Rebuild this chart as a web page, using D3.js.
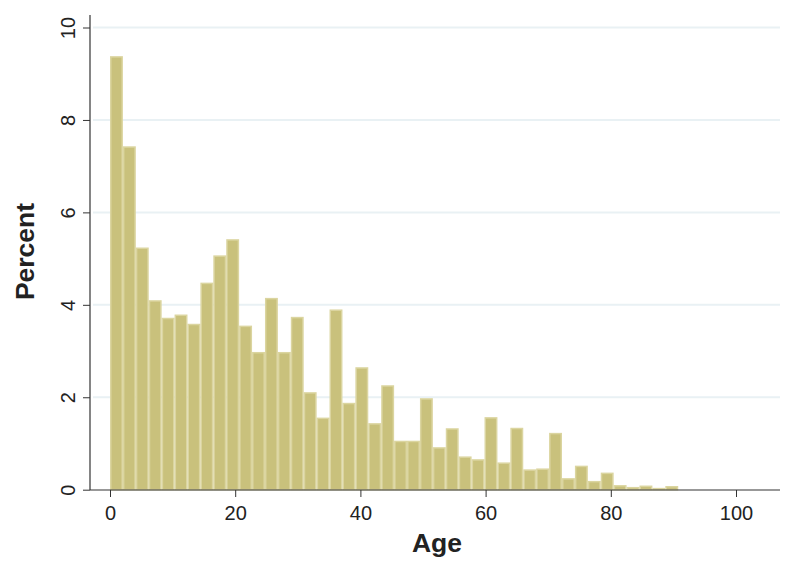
<!DOCTYPE html>
<html>
<head>
<meta charset="utf-8">
<script src="https://cdn.jsdelivr.net/npm/d3@7"></script>
<style>
  body { margin: 0; background: #fff; }
  svg { display: block; font-family: "Liberation Sans", Arial, sans-serif; }
</style>
</head>
<body>
<script>
// histogram of age, 44 bins starting at 0
const binStart = 0;
const binWidth = 2.063;
const percents = [
  9.38, 7.43, 5.24, 4.10, 3.72, 3.79, 3.59, 4.48, 5.07, 5.42,
  3.55, 2.98, 4.15, 2.98, 3.74, 2.11, 1.56, 3.90, 1.88, 2.65,
  1.44, 2.26, 1.06, 1.06, 1.98, 0.92, 1.33, 0.72, 0.66, 1.57,
  0.59, 1.34, 0.44, 0.46, 1.23, 0.25, 0.52, 0.19, 0.37, 0.10,
  0.06, 0.09, 0.04, 0.08
];
const xTicks = [0, 20, 40, 60, 80, 100];
const yTicks = [0, 2, 4, 6, 8, 10];

const width = 797, height = 574;

const bins = percents.map((p, i) => ({
  x0: binStart + i * binWidth,
  x1: binStart + (i + 1) * binWidth,
  pct: p
}));

const svg = d3.select('body').append('svg')
  .attr('width', width)
  .attr('height', height);

const x = d3.scaleLinear().domain([0, 100]).range([110, 736]);
const y = d3.scaleLinear().domain([0, 10]).range([489.7, 27.5]);

const plotLeft = 90, plotRight = 780, plotTop = 15, plotBottom = 490;

// gridlines
svg.append('g')
  .selectAll('line')
  .data(yTicks.filter(d => d > 0))
  .enter().append('line')
  .attr('x1', plotLeft + 3)
  .attr('x2', plotRight)
  .attr('y1', d => y(d))
  .attr('y2', d => y(d))
  .style('stroke', '#e9f1f4')
  .style('stroke-width', 2);

// bars
svg.append('g')
  .selectAll('rect')
  .data(bins)
  .enter().append('rect')
  .attr('x', d => x(d.x0) + 0.75)
  .attr('width', d => x(d.x1) - x(d.x0) - 1.5)
  .attr('y', d => y(d.pct) + 0.75)
  .attr('height', d => Math.max(0, y(0) - y(d.pct) - 0.75))
  .style('fill', '#c9c17c')
  .style('stroke', '#dbd5a0')
  .style('stroke-width', 1.5);

// x axis
const xAxis = d3.axisBottom(x).tickValues(xTicks).tickSize(7).tickFormat(d3.format('d'));
const gx = svg.append('g')
  .attr('transform', `translate(0,${plotBottom})`)
  .call(xAxis);
gx.select('.domain').remove();
gx.append('line')
  .attr('x1', plotLeft).attr('x2', plotRight)
  .style('stroke', '#333').style('stroke-width', 1.2);
gx.selectAll('.tick line').style('stroke', '#333');
gx.selectAll('.tick text')
  .attr('y', 30).attr('dy', null)
  .style('font-size', '20px')
  .style('fill', '#222')
  .style('font-family', '"Liberation Sans", Arial, sans-serif');

// y axis
const yAxis = d3.axisLeft(y).tickValues(yTicks).tickSize(7).tickFormat(d3.format('d'));
const gy = svg.append('g')
  .attr('transform', `translate(${plotLeft},0)`)
  .call(yAxis);
gy.select('.domain').remove();
gy.append('line')
  .attr('y1', plotTop).attr('y2', plotBottom)
  .style('stroke', '#333').style('stroke-width', 1.2);
gy.selectAll('.tick line').style('stroke', '#333');
gy.selectAll('.tick text')
  .attr('x', null).attr('dy', null)
  .attr('transform', 'translate(-15,0) rotate(-90)')
  .attr('text-anchor', 'middle')
  .style('font-size', '20px')
  .style('fill', '#222')
  .style('font-family', '"Liberation Sans", Arial, sans-serif');

// axis titles
svg.append('text')
  .attr('x', 437).attr('y', 552)
  .attr('text-anchor', 'middle')
  .style('font-size', '26.5px')
  .style('font-weight', 'bold')
  .style('fill', '#222')
  .text('Age');

svg.append('text')
  .attr('transform', 'translate(34,251.5) rotate(-90)')
  .attr('text-anchor', 'middle')
  .style('font-size', '26.5px')
  .style('font-weight', 'bold')
  .style('fill', '#222')
  .text('Percent');
</script>
</body>
</html>
